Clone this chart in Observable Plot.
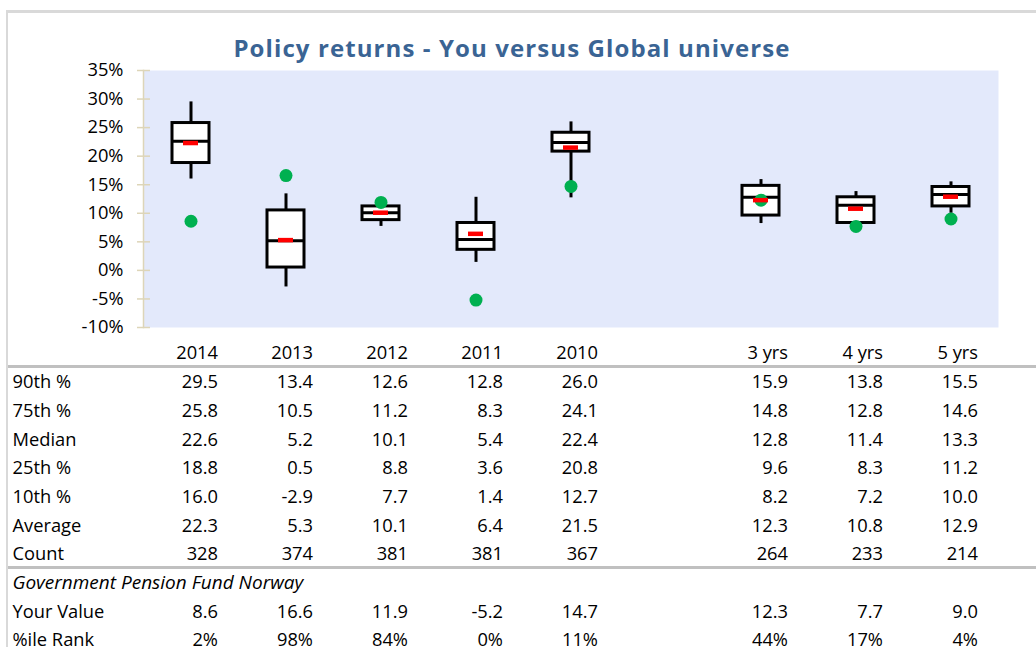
<!DOCTYPE html>
<html>
<head>
<meta charset="utf-8">
<script src="https://cdn.jsdelivr.net/npm/d3@7"></script>
<script src="https://cdn.jsdelivr.net/npm/@observablehq/plot@0.6"></script>
<style>
  html, body { margin: 0; padding: 0; background: #fff; }
  body { width: 1036px; height: 647px; position: relative; overflow: hidden; font-family: "Open Sans", sans-serif; }
  .frame { position: absolute; left: 6px; top: 10px; width: 1040px; height: 650px;
           border-top: 3px solid #d9d9d9; border-left: 2px solid #d9d9d9; box-sizing: border-box; }
  .hline { position: absolute; left: 8px; width: 1030px; height: 3px; background: #c0c0c0; }
  #title { position: absolute; top: 30px; left: 0; width: 1024px; text-align: center;
           font: bold 24px "Open Sans", sans-serif; letter-spacing: 1.1px; color: #3A6494; line-height: 36px; }
  #chart { position: absolute; left: 0; top: 0; }
  #table { position: absolute; left: 0; top: 367px; }
</style>
</head>
<body>
<div class="frame"></div>
<div id="chart"></div>
<div id="title">Policy returns - You versus Global universe</div>
<div class="hline" style="top:365px"></div>
<div class="hline" style="top:566px"></div>
<div id="table"></div>
<script>
// ---- data ----
const categories = ["2014", "2013", "2012", "2011", "2010", "3 yrs", "4 yrs", "5 yrs"];
const p90     = [29.5, 13.4, 12.6, 12.8, 26.0, 15.9, 13.8, 15.5];
const p75     = [25.8, 10.5, 11.2,  8.3, 24.1, 14.8, 12.8, 14.6];
const median  = [22.6,  5.2, 10.1,  5.4, 22.4, 12.8, 11.4, 13.3];
const p25     = [18.8,  0.5,  8.8,  3.6, 20.8,  9.6,  8.3, 11.2];
const p10     = [16.0, -2.9,  7.7,  1.4, 12.7,  8.2,  7.2, 10.0];
const average = [22.3,  5.3, 10.1,  6.4, 21.5, 12.3, 10.8, 12.9];
const count   = [328, 374, 381, 381, 367, 264, 233, 214];
const yourValue = [8.6, 16.6, 11.9, -5.2, 14.7, 12.3, 7.7, 9.0];
const pctRank   = [2, 98, 84, 0, 11, 44, 17, 4];
const fundName = "Government Pension Fund Norway";
const yTicks = [-10, -5, 0, 5, 10, 15, 20, 25, 30, 35];

// ---- derived table ----
const stats = categories.map((c, i) => ({
  cat: c, p90: p90[i], p75: p75[i], median: median[i], p25: p25[i], p10: p10[i],
  avg: average[i], count: count[i], you: yourValue[i], rank: pctRank[i]
}));
const xDomain = [...categories.slice(0, 5), "gap", ...categories.slice(5)];
const W = 1036, ML = 143, MR = 38;
const font = {fontFamily: "'Open Sans', sans-serif", fontSize: "18.3px", background: "transparent", overflow: "visible"};

const boxInset = 29, avgInset = 40;
const chart = Plot.plot({
  width: W, height: 367,
  marginLeft: ML, marginRight: MR, marginTop: 70, marginBottom: 40,
  style: font,
  x: {type: "band", domain: xDomain, padding: 0, label: null},
  y: {domain: [-10, 35], label: null},
  marks: [
    Plot.frame({fill: "#E3E9FB", stroke: null}),
    Plot.frame({anchor: "left", stroke: "#DDD5B8", strokeWidth: 1.5}),
    Plot.axisY({ticks: yTicks, tickSize: 13, dx: 7, tickPadding: 14, tickFormat: d => d + "%",
      stroke: "#DDD5B8", strokeWidth: 1.5, fill: "#000", label: null}),
    Plot.axisX({tickSize: 0, tickPadding: 18, textAnchor: "end", dx: 27,
      tickFormat: d => d === "gap" ? "" : d, fill: "#000", label: null}),
    Plot.ruleX(stats, {x: "cat", y1: "p75", y2: "p90", stroke: "#000", strokeWidth: 3}),
    Plot.ruleX(stats, {x: "cat", y1: "p10", y2: "p25", stroke: "#000", strokeWidth: 3}),
    Plot.barY(stats, {x: "cat", y1: "p25", y2: "p75", fill: "#fff", stroke: "#000", strokeWidth: 3,
      insetLeft: boxInset, insetRight: boxInset}),
    Plot.tickY(stats, {x: "cat", y: "median", stroke: "#000", strokeWidth: 3, insetLeft: boxInset, insetRight: boxInset}),
    Plot.dot(stats, {x: "cat", y: "you", r: 6.5, fill: "#00B050", stroke: null}),
    Plot.tickY(stats, {x: "cat", y: "avg", stroke: "#FF0000", strokeWidth: 4.5, insetLeft: avgInset, insetRight: avgInset})
  ]
});
document.getElementById("chart").append(chart);

// ---- table ----
const rowKeys = ["90th %", "75th %", "Median", "25th %", "10th %", "Average", "Count", fundName, "Your Value", "%ile Rank"];
const cells = [];
stats.forEach(s => {
  cells.push({row: "90th %", cat: s.cat, t: s.p90.toFixed(1)});
  cells.push({row: "75th %", cat: s.cat, t: s.p75.toFixed(1)});
  cells.push({row: "Median", cat: s.cat, t: s.median.toFixed(1)});
  cells.push({row: "25th %", cat: s.cat, t: s.p25.toFixed(1)});
  cells.push({row: "10th %", cat: s.cat, t: s.p10.toFixed(1)});
  cells.push({row: "Average", cat: s.cat, t: s.avg.toFixed(1)});
  cells.push({row: "Count", cat: s.cat, t: String(s.count)});
  cells.push({row: "Your Value", cat: s.cat, t: s.you.toFixed(1)});
  cells.push({row: "%ile Rank", cat: s.cat, t: s.rank + "%"});
});
const table = Plot.plot({
  width: W, height: 280,
  marginLeft: ML, marginRight: MR, marginTop: 15, marginBottom: 7,
  style: font,
  x: {type: "band", domain: xDomain, padding: 0, axis: null},
  y: {type: "point", domain: rowKeys, padding: 0, round: false, axis: null},
  marks: [
    Plot.text(cells, {x: "cat", y: "row", text: "t", dx: 27, textAnchor: "end", fill: "#000"}),
    Plot.text(rowKeys.filter(r => r !== fundName), {y: d => d, text: d => d, frameAnchor: "left", dx: -131, textAnchor: "start", fill: "#000"}),
    Plot.text([fundName], {y: d => d, text: d => d, frameAnchor: "left", dx: -131, textAnchor: "start",
      fontStyle: "italic", fontSize: 19, fill: "#000", letterSpacing: "0.9px"})
  ]
});
document.getElementById("table").append(table);
</script>
</body>
</html>
